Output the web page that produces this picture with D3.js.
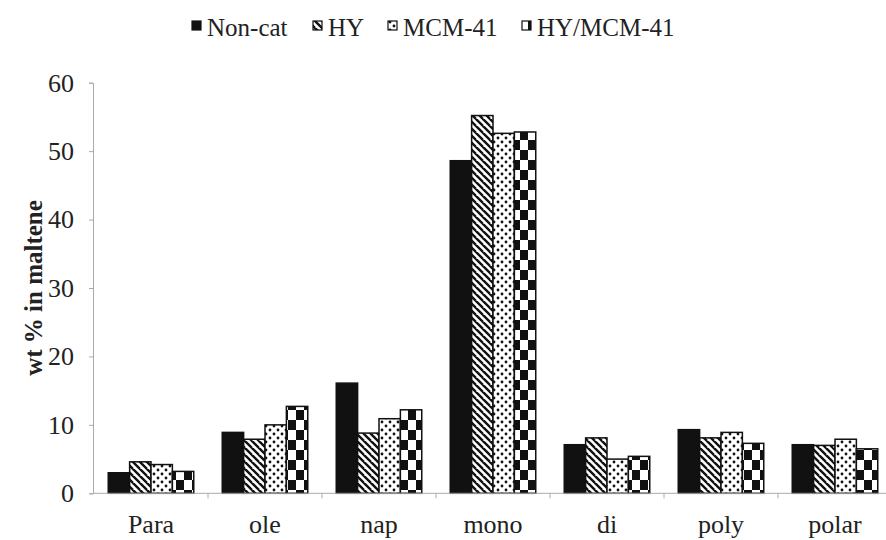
<!DOCTYPE html>
<html><head><meta charset="utf-8">
<script src="https://cdn.jsdelivr.net/npm/d3@7"></script>
<style>body{margin:0;background:#fff}</style>
</head><body>
<svg id="c" width="886" height="540"></svg>
<script>
const categories = ["Para","ole","nap","mono","di","poly","polar"];
const seriesNames = ["Non-cat","HY","MCM-41","HY/MCM-41"];
const nonCat = [3.0, 8.9, 16.1, 48.6, 7.1, 9.3, 7.1];
const hy     = [4.6, 7.9, 8.8, 55.2, 8.1, 8.1, 7.0];
const mcm41  = [4.2, 10.0, 10.9, 52.6, 5.0, 8.9, 7.9];
const hyMcm  = [3.2, 12.7, 12.2, 52.8, 5.4, 7.3, 6.5];
const yTicks = [0,10,20,30,40,50,60];
const yTitle = "wt % in maltene";

const series = [nonCat, hy, mcm41, hyMcm];
const fills = ["#111", "url(#pHY)", "url(#pMCM)", "url(#pCHK)"];

const svg = d3.select("#c");
const font = "'Liberation Serif','Times New Roman',serif";
const defs = svg.append("defs");
// diagonal stripes
const p1 = defs.append("pattern").attr("id","pHY").attr("patternUnits","userSpaceOnUse").attr("width",7).attr("height",7);
p1.append("rect").attr("width",7).attr("height",7).attr("fill","#fff");
p1.append("path").attr("d","M-1,-1 L8,8 M-4,3 L0,7 M3,-4 L8,1").attr("stroke","#111").attr("stroke-width",2.4);
// dots
const p2 = defs.append("pattern").attr("id","pMCM").attr("patternUnits","userSpaceOnUse").attr("width",8).attr("height",8);
p2.append("rect").attr("width",8).attr("height",8).attr("fill","#fff");
p2.append("circle").attr("cx",2).attr("cy",2).attr("r",1.4).attr("fill","#111");
p2.append("circle").attr("cx",6).attr("cy",6).attr("r",1.4).attr("fill","#111");
// checker
const p3 = defs.append("pattern").attr("id","pCHK").attr("patternUnits","userSpaceOnUse").attr("width",16).attr("height",20);
p3.append("rect").attr("width",16).attr("height",20).attr("fill","#fff");
p3.append("rect").attr("x",0).attr("y",0).attr("width",8).attr("height",10).attr("fill","#111");
p3.append("rect").attr("x",8).attr("y",10).attr("width",8).attr("height",10).attr("fill","#111");

const x0 = d3.scaleBand().domain(categories).range([94, 892]).paddingInner(0.25).paddingOuter(0.125);
const x1 = d3.scaleBand().domain(d3.range(4)).range([0, x0.bandwidth()]);
const y = d3.scaleLinear().domain([0,60]).range([493.3, 82.7]);

// bars
categories.forEach((c,i)=>{
  series.forEach((s,j)=>{
    svg.append("rect")
      .attr("x", x0(c)+x1(j)).attr("y", y(s[i]))
      .attr("width", x1.bandwidth()).attr("height", y(0)-y(s[i]))
      .attr("fill", fills[j]).attr("stroke","#111").attr("stroke-width",1.5);
  });
});

// y axis
const ya = svg.append("g").attr("transform","translate(93,0)")
  .call(d3.axisLeft(y).tickValues(yTicks).tickSize(4).tickPadding(15));
ya.select(".domain").attr("stroke","#aaa");
ya.selectAll(".tick line").attr("stroke","#aaa");
ya.selectAll("text").attr("font-family",font).attr("font-size",26).attr("fill","#222");

// x axis
const xa = svg.append("g").attr("transform",`translate(0,${y(0)})`);
xa.append("line").attr("x1",93).attr("x2",886).attr("stroke","#aaa");
const bounds = categories.map((c)=> x0(c) - x0.step()*x0.paddingInner()/2);
xa.selectAll("line.t").data(bounds.slice(1)).join("line").attr("class","t")
  .attr("x1",d=>d).attr("x2",d=>d).attr("y1",0).attr("y2",5).attr("stroke","#aaa");
xa.selectAll("text").data(categories).join("text")
  .attr("x",d=>x0(d)+x0.bandwidth()/2).attr("y",40)
  .attr("text-anchor","middle").attr("font-family",font).attr("font-size",26).attr("fill","#222")
  .text(d=>d);

// y title
svg.append("text").attr("transform","translate(42,288) rotate(-90)")
  .attr("text-anchor","middle").attr("font-family",font).attr("font-weight","bold")
  .attr("font-size",25).attr("fill","#222").text(yTitle);

// legend
const legX = [192, 313, 388, 522];
seriesNames.forEach((n,j)=>{
  svg.append("rect").attr("x",legX[j]).attr("y",21).attr("width",9).attr("height",9)
    .attr("fill",fills[j]).attr("stroke","#111").attr("stroke-width",1.2);
  svg.append("text").attr("x",legX[j]+15).attr("y",36).attr("font-family",font)
    .attr("font-size",25).attr("fill","#222").text(n);
});
</script>
</body></html>
